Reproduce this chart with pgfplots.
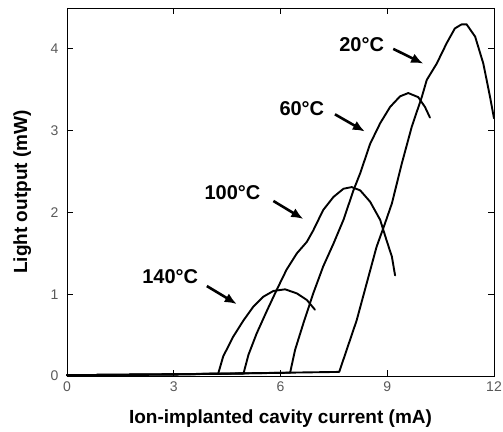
\documentclass[border=0pt]{standalone}
\usepackage{pgfplots}
\pgfplotsset{compat=1.18}
\usepackage{fontspec}
\setmainfont{Liberation Sans}
\usetikzlibrary{arrows.meta}
\tikzset{curve/.style={black, line width=1.9pt, line join=round, line cap=round, mark=none}}
\begin{document}
\begin{tikzpicture}
\begin{axis}[
  name=main,
  scale only axis,
  width=427pt, height=368pt,
  xmin=0, xmax=12, ymin=0, ymax=4.5,
  xtick={0,3,6,9,12}, ytick={0,1,2,3,4},
  tick align=inside,
  major tick length=6pt,
  axis line style={line width=0.8pt},
  tick style={line width=0.9pt, black},
  /pgf/number format/assume math mode=true,
  ticklabel style={font=\fontsize{14}{14}\selectfont, text=black!65},
  xticklabel style={yshift=-2pt},
  yticklabel style={xshift=-5pt},
  xlabel={\textbf{Ion-implanted cavity current (mA)}},
  ylabel={\textbf{Light output (mW)}},
  label style={font=\fontsize{19}{19}\selectfont},
  xlabel style={at={(axis description cs:0.5,-0.116)}, anchor=center},
  ylabel style={at={(axis description cs:-0.105,0.5)}, anchor=center},
  clip=false,
]
% 20 C
\addplot[curve] coordinates {(0,0.01) (3,0.02) (7.65,0.05) (7.86,0.32) (8.14,0.68) (8.42,1.13) (8.7,1.58) (8.94,1.87) (9.13,2.11) (9.41,2.6) (9.69,3.05) (9.97,3.41) (10.11,3.62) (10.39,3.82) (10.67,4.07) (10.9,4.25) (11.09,4.3) (11.23,4.3) (11.47,4.15) (11.7,3.82) (11.89,3.41) (12,3.15)};
% 60 C
\addplot[curve] coordinates {(0,0.01) (3,0.02) (6.27,0.04) (6.41,0.32) (6.64,0.64) (6.92,1.01) (7.2,1.34) (7.49,1.62) (7.77,1.91) (8.05,2.27) (8.24,2.48) (8.52,2.84) (8.8,3.09) (9.08,3.29) (9.36,3.42) (9.59,3.46) (9.87,3.41) (10.06,3.29) (10.2,3.16)};
% 100 C
\addplot[curve] coordinates {(0,0.01) (3,0.02) (4.96,0.03) (5.1,0.26) (5.33,0.52) (5.61,0.79) (5.89,1.05) (6.17,1.3) (6.46,1.5) (6.74,1.64) (6.92,1.78) (7.2,2.03) (7.49,2.19) (7.77,2.29) (8.0,2.31) (8.24,2.27) (8.52,2.13) (8.8,1.91) (8.98,1.66) (9.13,1.46) (9.22,1.23)};
% 140 C
\addplot[curve] coordinates {(0,0.01) (3,0.02) (4.25,0.03) (4.39,0.24) (4.67,0.48) (4.96,0.68) (5.24,0.85) (5.52,0.97) (5.8,1.04) (6.13,1.06) (6.46,1.01) (6.74,0.93) (6.97,0.81)};
% annotations
\node[font=\fontsize{20}{20}\selectfont\bfseries] at (axis cs:8.28,4.05) {20°C};
\node[font=\fontsize{20}{20}\selectfont\bfseries] at (axis cs:6.6,3.27) {60°C};
\node[font=\fontsize{20}{20}\selectfont\bfseries] at (axis cs:4.65,2.24) {100°C};
\node[font=\fontsize{20}{20}\selectfont\bfseries] at (axis cs:2.9,1.21) {140°C};
\begin{scope}[line width=2.6pt, -{Latex[length=12pt,width=10pt]}]
\draw (axis cs:9.17,4.0) -- (axis cs:10.01,3.82);
\draw (axis cs:7.53,3.2) -- (axis cs:8.37,2.99);
\draw (axis cs:5.8,2.14) -- (axis cs:6.64,1.92);
\draw (axis cs:3.93,1.1) -- (axis cs:4.77,0.88);
\end{scope}
\end{axis}
\pgfresetboundingbox
\path ([xshift=-67pt,yshift=-56pt]main.south west) rectangle ([xshift=9pt,yshift=8pt]main.north east);
\end{tikzpicture}
\end{document}
